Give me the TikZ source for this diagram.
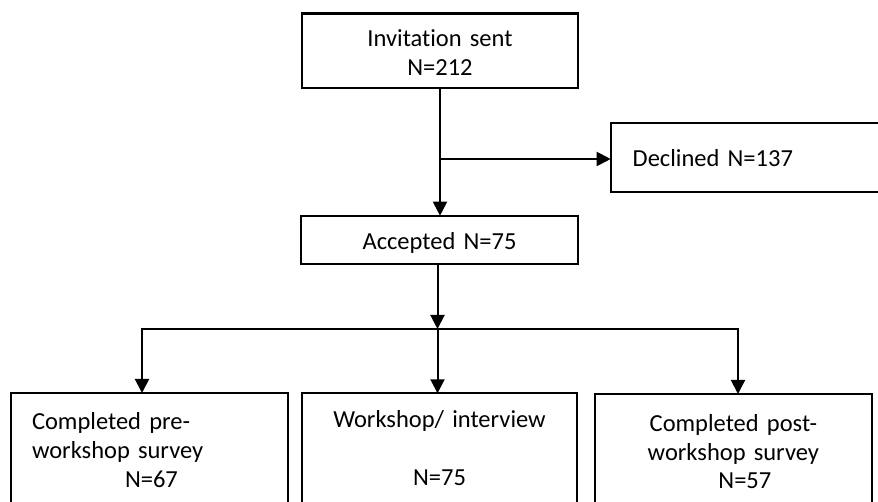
\documentclass[tikz,border=0pt]{standalone}
\usepackage{fontspec}
\setmainfont{Carlito}[Ligatures=NoCommon]
\usetikzlibrary{arrows.meta}

\begin{document}
\begin{tikzpicture}[x=1pt,y=-1pt,
  box/.style={draw=black,line width=2.2pt,anchor=north west,inner sep=0pt,outer sep=0pt,align=center,font=\fontsize{24.5}{29}\selectfont},
  link/.style={line width=2pt,line join=miter},
  >={Triangle[length=14pt,width=14pt]}]
  \useasboundingbox (0,0) rectangle (878,502);
  % upper part
  \node[box,text width=276pt,text height=33.5pt,text depth=41pt] (inv) at (302,13.5) {Invitation sent\\N=212};
  \node[box,align=left,inner xsep=22pt,text width=257pt,text height=43.4pt,text depth=25pt] (decl) at (610.7,123.3) {Declined N=137};
  \node[box,text width=277pt,text height=34.3pt,text depth=14pt] (acc) at (301,215.7) {Accepted N=75};
  % three outcomes
  \node[box,align=left,inner xsep=21pt,text width=235pt,text height=36pt,text depth=120pt] (pre) at (11,393) {Completed pre-\\workshop survey\\\hspace*{93pt}N=67};
  \node[box,text width=275.6pt,text height=34.4pt,text depth=120pt] (work) at (301.7,393.3) {Workshop/ interview\\[29pt]N=75};
  \node[box,text width=277.3pt,text height=37pt,text depth=120pt] (post) at (594.7,394) {Completed post-\\workshop survey\\\hspace*{23pt}N=57};
  \coordinate (split) at (440,159);
  \coordinate (hub) at (437.5,329);
  \coordinate (barL) at (142,329);
  \coordinate (barR) at (738,329);
  \draw[link,->] (inv.south) -- (inv.south |- acc.north);
  \draw[link,->] (split) -- (split -| decl.west);
  \draw[link,->] (acc.south -| hub) -- (hub);
  \draw[link,->] (hub) -- (barL) -- (barL |- pre.north);
  \draw[link,->] (hub) -- (barR) -- (barR |- post.north);
  \draw[link,->] (hub) -- (hub |- work.north);
\end{tikzpicture}
\end{document}
